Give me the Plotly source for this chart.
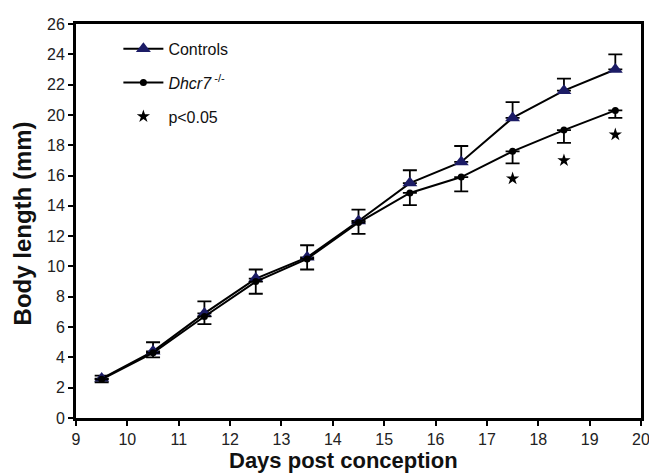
import plotly.graph_objects as go

days = [9.5, 10.5, 11.5, 12.5, 13.5, 14.5, 15.5, 16.5, 17.5, 18.5, 19.5]
controls = [2.6, 4.4, 6.9, 9.2, 10.6, 13.0, 15.5, 16.9, 19.8, 21.6, 23.0]
controls_err = [0.2, 0.6, 0.8, 0.6, 0.8, 0.75, 0.85, 1.05, 1.05, 0.8, 1.0]
dhcr7 = [2.55, 4.3, 6.7, 9.0, 10.5, 12.9, 14.85, 15.9, 17.6, 19.0, 20.3]
dhcr7_err = [0.2, 0.3, 0.5, 0.8, 0.7, 0.75, 0.8, 0.95, 0.8, 0.85, 0.5]
sig_days = [17.5, 18.5, 19.5]
sig_y = [15.8, 17.0, 18.7]

x_ticks = list(range(9, 21))
y_ticks = list(range(0, 27, 2))
x_title = "<b>Days post conception</b>"
y_title = "<b>Body length (mm)</b>"

fig = go.Figure()
fig.add_trace(go.Scatter(
    x=days, y=controls, mode="lines+markers", name="Controls", legendgroup="a",
    line=dict(color="black", width=2),
    marker=dict(symbol="triangle-up", size=13, color="#1c1c66", line=dict(color="#1c1c66", width=0)),
    error_y=dict(type="data", array=controls_err, arrayminus=[0]*len(days), symmetric=False,
                 color="black", thickness=1.8, width=7),
))
fig.add_trace(go.Scatter(
    x=days, y=dhcr7, mode="lines+markers", name="<i>Dhcr7</i><sup> -/-</sup>", legendgroup="b",
    line=dict(color="black", width=2),
    marker=dict(symbol="circle", size=7, color="black"),
    error_y=dict(type="data", array=[0]*len(days), arrayminus=dhcr7_err, symmetric=False,
                 color="black", thickness=1.8, width=7),
))
fig.add_trace(go.Scatter(
    x=sig_days, y=sig_y, mode="markers", name="p<0.05", legendgroup="c",
    marker=dict(symbol="star", size=10, color="black"),
))

axis_font = dict(family="Liberation Sans, Arial, sans-serif", size=16, color="#222")
fig.update_layout(
    width=649, height=474,
    margin=dict(l=76, r=8, t=24, b=56, autoexpand=False),
    paper_bgcolor="white", plot_bgcolor="white",
    font=dict(family="Liberation Sans, Arial, sans-serif", color="#111"),
    showlegend=True,
    legend=dict(x=0.075, y=0.98, xanchor="left", yanchor="top", bgcolor="rgba(0,0,0,0)",
                font=dict(size=16, color="#111"), tracegroupgap=10, itemwidth=40),
    xaxis=dict(range=[9, 20], tickvals=x_ticks, ticktext=[str(v) for v in x_ticks],
               showline=True, linecolor="black", linewidth=3, mirror=True,
               ticks="outside", ticklen=5, tickwidth=2, tickcolor="black",
               showgrid=False, zeroline=False, tickfont=axis_font, automargin=False,
               ticklabeloverflow="allow"),
    yaxis=dict(range=[0, 26], tickvals=y_ticks, ticktext=[str(v) for v in y_ticks],
               showline=True, linecolor="black", linewidth=3, mirror=True,
               ticks="outside", ticklen=5, tickwidth=2, tickcolor="black",
               showgrid=False, zeroline=False, tickfont=axis_font, automargin=False,
               ticklabeloverflow="allow"),
    annotations=[
        dict(text=x_title, xref="paper", yref="paper", x=0.474, y=-0.109,
             xanchor="center", yanchor="middle", showarrow=False,
             font=dict(size=22, color="#111")),
        dict(text=y_title, xref="paper", yref="paper", x=-0.093, y=0.495,
             xanchor="center", yanchor="middle", showarrow=False, textangle=-90,
             font=dict(size=24, color="#111")),
    ],
)

fig.write_html("out.html", config={"displayModeBar": False},
               post_script="document.body.style.margin='0px';")
